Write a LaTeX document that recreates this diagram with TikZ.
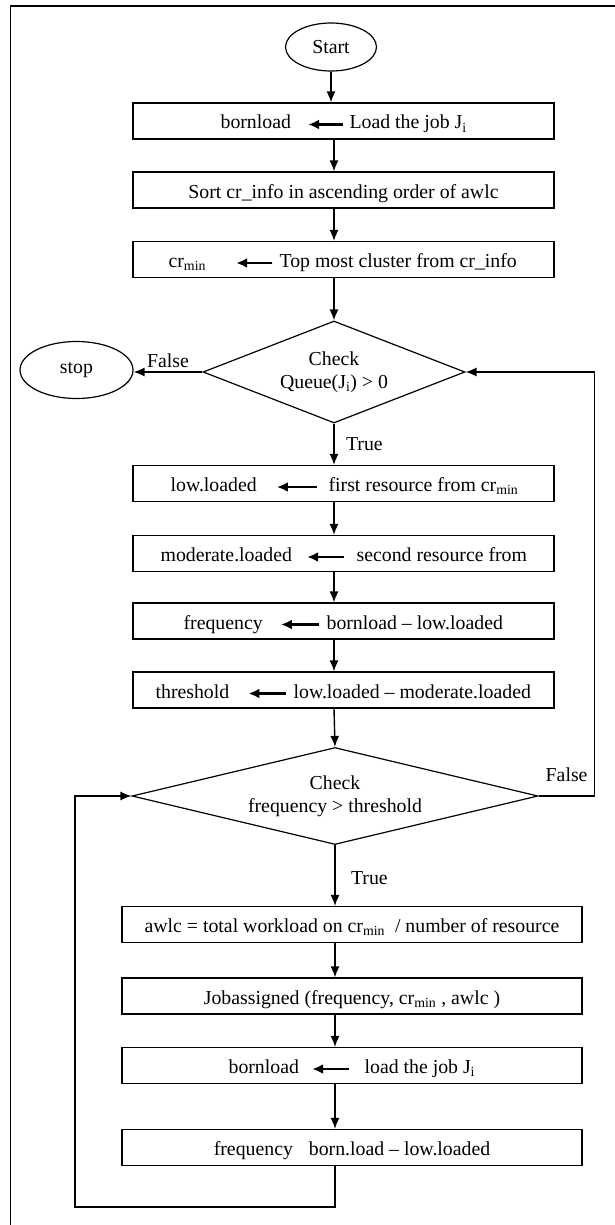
\documentclass[tikz,border=0pt]{standalone}
\usepackage{fontspec}
\setmainfont{Liberation Serif}
\usetikzlibrary{shapes,arrows.meta,positioning}
\tikzstyle{box}=[draw,rectangle,line width=1.2pt,minimum width=421pt,
minimum height=36pt,inner sep=0pt,text height=20pt,text depth=4pt]
\tikzstyle{box2}=[box,minimum width=460pt]
\tikzstyle{term}=[draw,ellipse,line width=1.2pt,inner sep=0pt]
\tikzstyle{cond}=[draw,diamond,line width=1.2pt,inner sep=0pt,align=center]
\tikzstyle{lab}=[inner sep=0pt,anchor=base west,text height=13pt,text depth=4pt]
\tikzstyle{flow}=[line width=1.4pt,-{Latex[length=11pt,width=9pt]}]
\tikzstyle{asgn}=[line width=2.2pt,-{Latex[length=11pt,width=10pt]}]

\begin{document}
\begin{tikzpicture}[x=1pt, y=-1pt, on grid,
  font=\fontsize{19.8}{23}\selectfont]
  \useasboundingbox (0,0) rectangle (615,1225);
  \coordinate (col) at (334,0);
  \coordinate (loop) at (75,1207);

  \draw[line width=1.3pt] (10.5,1230) -- (10.5,6) -- (620,6);

  \node[term, minimum width=91pt, minimum height=48pt] (start) at (331,47) {Start};
  \node[box] (b1) at (343.5,121) {};
  \node[lab] (b1l) at ([xshift=88pt]b1.base west) {bornload};
  \node[lab] (b1r) at ([xshift=217pt]b1.base west) {Load the job J\textsubscript{i}};
  \node[box, below=69pt of b1] (b2) {Sort cr\_info in ascending order of awlc};
  \node[box, below=69.5pt of b2] (b3) {};
  \node[lab] (b3l) at ([xshift=36pt]b3.base west) {cr\textsubscript{min}};
  \node[lab] (b3r) at ([xshift=147pt]b3.base west) {Top most cluster from cr\_info};

  \node[cond, aspect=2.57, minimum width=262pt, minimum height=102pt] (d1) at (334,372)
    {Check\\Queue(J\textsubscript{i}) > 0};
  \node[term, minimum width=113pt, minimum height=57pt] (stop) at (76.5,370) {stop};

  \node[box] (b4) at (343.5,483.5) {};
  \node[lab] (b4l) at ([xshift=38pt]b4.base west) {low.loaded};
  \node[lab] (b4r) at ([xshift=196pt]b4.base west) {first resource from cr\textsubscript{min}};
  \node[box, below=70pt of b4] (b5) {};
  \node[lab] (b5l) at ([xshift=28pt]b5.base west) {moderate.loaded};
  \node[lab] (b5r) at ([xshift=224pt]b5.base west) {second resource from};
  \node[box, below=67.5pt of b5] (b6) {};
  \node[lab] (b6l) at ([xshift=51pt]b6.base west) {frequency};
  \node[lab] (b6r) at ([xshift=194pt]b6.base west) {bornload – low.loaded};
  \node[box, below=69pt of b6] (b7) {};
  \node[lab] (b7l) at ([xshift=23pt]b7.base west) {threshold};
  \node[lab] (b7r) at ([xshift=161pt]b7.base west) {low.loaded – moderate.loaded};

  \node[cond, aspect=4.19, minimum width=406pt, minimum height=97pt] (d2) at (335,796)
    {Check\\frequency > threshold};

  \node[box2] (b8) at (352,924.5)
    {awlc = total workload on cr\textsubscript{min}\ \ / number of resource};
  \node[box2, below=71.5pt of b8] (b9) {Jobassigned (frequency, cr\textsubscript{min} , awlc )};
  \node[box2, below=69.5pt of b9] (b10) {};
  \node[lab] (b10l) at ([xshift=107pt]b10.base west) {bornload};
  \node[lab] (b10r) at ([xshift=243pt]b10.base west) {load the job J\textsubscript{i}};
  \node[box2, below=82pt of b10] (b11) {frequency\hspace{16pt}born.load – low.loaded};

  % assignments inside the boxes
  \draw[asgn, shorten <=6pt, shorten >=17pt] (b1r.west) -- (b1l.east);
  \draw[asgn, shorten <=7pt, shorten >=30pt] (b3r.west) -- (b3l.east);
  \draw[asgn, shorten <=11pt, shorten >=20pt] (b4r.west) -- (b4l.east);
  \draw[asgn, shorten <=12pt, shorten >=15pt] (b5r.west) -- (b5l.east);
  \draw[asgn, shorten <=7pt, shorten >=18pt] (b6r.west) -- (b6l.east);
  \draw[asgn, shorten <=7pt, shorten >=19pt] (b7r.west) -- (b7l.east);
  \draw[asgn, shorten <=15pt, shorten >=13pt] (b10r.west) -- (b10l.east);

  % main flow
  \draw[flow] (start.south) -- (start.south |- b1.north);
  \draw[flow] (b1.south -| col) -- (b2.north -| col);
  \draw[flow] (b2.south -| col) -- (b3.north -| col);
  \draw[flow] (b3.south -| col) -- (d1.north);
  \draw[flow] (d1.west) -- node[above] {False} (d1.west -| stop.east);
  \draw[flow] (d1.south) -- node[right, xshift=8pt] {True} (b4.north -| col);
  \draw[flow] (b4.south -| col) -- (b5.north -| col);
  \draw[flow] (b5.south -| col) -- (b6.north -| col);
  \draw[flow] (b6.south -| col) -- (b7.north -| col);
  \draw[flow] (b7.south -| col) -- (d2.north);
  \draw[flow] (d2.east) -- node[above, yshift=10pt] {False} ++(56,0) |- (d1.east);
  \draw[flow] (d2.south) -- node[right, xshift=12pt, pos=.55] {True} (b8.north -| d2.south);
  \draw[flow] (b8.south -| d2.south) -- (b9.north -| d2.south);
  \draw[flow] (b9.south -| d2.south) -- (b10.north -| d2.south);
  \draw[flow] (b10.south -| d2.south) -- (b11.north -| d2.south);
  \draw[flow] (b11.south -| d2.south) |- (loop) |- (d2.west);
\end{tikzpicture}
\end{document}
